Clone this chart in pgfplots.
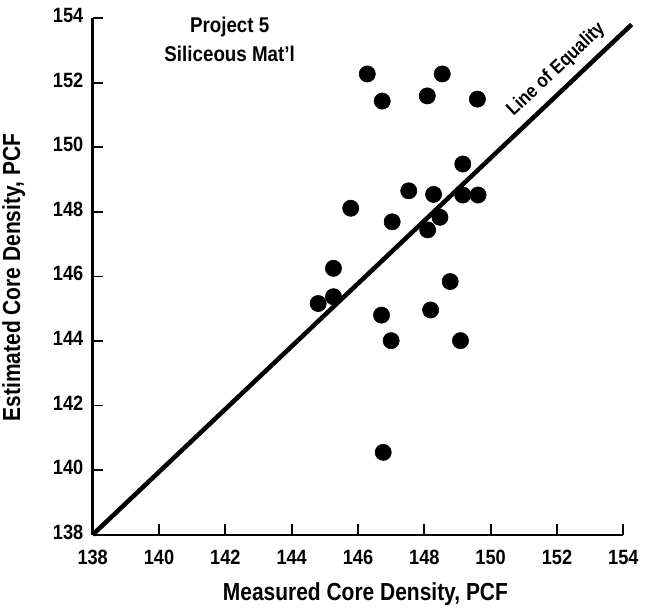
\documentclass[border=0pt]{standalone}
\usepackage{fontspec}
\setmainfont[FakeStretch=0.88]{Liberation Sans}
\newfontfamily\tickfont[FakeStretch=0.88]{Liberation Sans}
\newfontfamily\labfont[FakeStretch=0.85]{Liberation Sans}
\usepackage{pgfplots}
\pgfplotsset{compat=1.18}

\begin{document}
\begin{tikzpicture}
\begin{axis}[
  scale only axis,width=398pt,height=387.5pt,
  xmin=138,xmax=154,ymin=138,ymax=154,
  xtick={138,140,...,154},ytick={138,140,...,154},
  axis x line=bottom,axis y line=left,
  axis line style={-},
  x axis line style={line width=1.4pt},
  y axis line style={line width=2.1pt},
  tick align=inside,major tick length=8pt,
  every tick/.style={black,line width=1.3pt},
  /pgf/number format/assume math mode=true,
  xticklabel={\tickfont\bfseries\pgfmathprintnumber[assume math mode=true]{\tick}},
  yticklabel={\tickfont\bfseries\pgfmathprintnumber[assume math mode=true]{\tick}},
  tick label style={font=\fontsize{15.5}{18}\selectfont},
  xticklabel style={anchor=north,yshift=-8pt},
  yticklabel style={anchor=east,xshift=-3.5pt,yshift=2pt},
  xlabel={Measured Core Density, PCF},
  ylabel={Estimated Core Density, PCF},
  label style={font=\labfont\fontsize{18.5}{22}\selectfont\bfseries,inner sep=0pt},
  xlabel style={at={(axis description cs:0.514,-0.1283)},anchor=base},
  ylabel style={at={(axis description cs:-0.137,0.4975)},anchor=base},
  clip=false
]
% keep the reference's margins
\path (rel axis cs:-0.1747,-0.151) rectangle (rel axis cs:1.0635,1.035);
% line of equality
\addplot[black,line width=3.4pt] coordinates {(138,138) (154.25,153.8)};
% core data
\addplot[only marks,mark=*,mark size=6.1pt,black] coordinates {
(146.28,152.27) (148.54,152.27) (146.73,151.43) (148.09,151.59) (149.60,151.49)
(149.16,149.48) (147.53,148.65) (148.28,148.54) (149.16,148.52) (149.62,148.52)
(145.78,148.11) (147.03,147.69) (148.47,147.83) (148.10,147.44)
(145.26,146.25) (145.26,145.37) (144.80,145.16) (148.78,145.84)
(146.71,144.80) (148.19,144.96) (147.00,144.01) (149.09,144.01)
(146.76,140.55)
};
\node[anchor=base,font=\fontsize{16}{19}\selectfont\bfseries]
  at (axis cs:142.13,153.56) {Project 5};
\node[anchor=base,font=\fontsize{16}{19}\selectfont\bfseries]
  at (axis cs:142.13,152.65) {Siliceous Mat'l};
\node[rotate=43.4,anchor=south,font=\fontsize{14.5}{17}\selectfont\bfseries,inner sep=3pt]
  at (axis cs:152.25,152.1) {Line of Equality};
\end{axis}
\end{tikzpicture}
\end{document}
